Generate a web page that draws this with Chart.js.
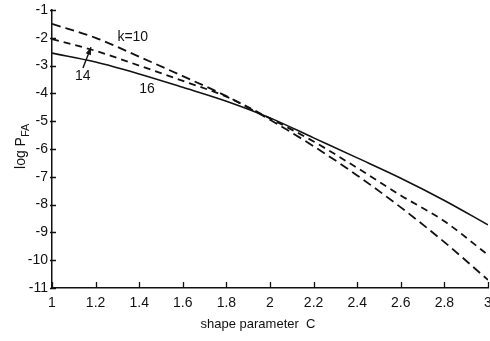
<!DOCTYPE html>
<html>
<head>
<meta charset="utf-8">
<script src="https://cdn.jsdelivr.net/npm/chart.js@4.4.1/dist/chart.umd.min.js"></script>
<style>
  html, body { margin: 0; padding: 0; background: #fff; }
  #wrap { width: 490px; height: 341px; position: relative; }
</style>
</head>
<body>
<div id="wrap"><canvas id="c"></canvas></div>
<script>
// shape parameter C
const shapeC = [1.0, 1.2, 1.4, 1.6, 1.8, 2.0, 2.2, 2.4, 2.6, 2.8, 3.0];
// log PFA for each k
const logK10 = [-1.5, -2.0, -2.68, -3.38, -4.1, -4.95, -5.9, -6.95, -8.1, -9.35, -10.71];
const logK14 = [-2.05, -2.47, -3.0, -3.55, -4.12, -4.9, -5.73, -6.68, -7.67, -8.6, -9.81];
const logK16 = [-2.55, -2.87, -3.3, -3.78, -4.28, -4.88, -5.6, -6.32, -7.05, -7.85, -8.73];
const xTicks = [1, 1.2, 1.4, 1.6, 1.8, 2, 2.2, 2.4, 2.6, 2.8, 3];
const yTicks = [-1, -2, -3, -4, -5, -6, -7, -8, -9, -10, -11];

const FONT = '"Liberation Sans", Arial, sans-serif';

function pts(ys) { return shapeC.map((x, i) => ({ x: x, y: ys[i] })); }

// inward tick marks, axis titles and curve labels
const extras = {
  id: 'extras',
  afterDraw(chart) {
    const ctx = chart.ctx;
    const xs = chart.scales.x, ys = chart.scales.y;
    const a = chart.chartArea;
    ctx.save();
    ctx.strokeStyle = '#111';
    ctx.lineWidth = 1.3;
    ctx.beginPath();
    xTicks.forEach(v => {
      const px = Math.round(xs.getPixelForValue(v)) + 0.5;
      ctx.moveTo(px, a.bottom); ctx.lineTo(px, a.bottom - 6);
    });
    yTicks.forEach(v => {
      const py = Math.round(ys.getPixelForValue(v)) + 0.5;
      ctx.moveTo(a.left - 2, py); ctx.lineTo(a.left + 4, py);
    });
    ctx.stroke();

    ctx.fillStyle = '#111';
    ctx.font = '13px ' + FONT;
    ctx.textAlign = 'center';
    ctx.textBaseline = 'alphabetic';
    ctx.fillText('shape parameter  C', 258, 328);

    // y title with subscript
    ctx.save();
    ctx.translate(25, 145);
    ctx.rotate(-Math.PI / 2);
    ctx.textAlign = 'left';
    ctx.font = '14px ' + FONT;
    const t1 = 'log P';
    const w1 = ctx.measureText(t1).width;
    const total = w1 + 16;
    ctx.fillText(t1, -total / 2, 0);
    ctx.font = '11px ' + FONT;
    ctx.fillText('FA', -total / 2 + w1, 4);
    ctx.restore();

    // curve labels
    ctx.font = '14px ' + FONT;
    ctx.textAlign = 'left';
    ctx.fillText('k=10', xs.getPixelForValue(1.3), ys.getPixelForValue(-2.1));
    ctx.fillText('14', xs.getPixelForValue(1.105), ys.getPixelForValue(-3.52));
    ctx.fillText('16', xs.getPixelForValue(1.4), ys.getPixelForValue(-4.0));

    // arrow to k=14
    const x0 = xs.getPixelForValue(1.142), y0 = ys.getPixelForValue(-3.09);
    const x1 = xs.getPixelForValue(1.179), y1 = ys.getPixelForValue(-2.34);
    ctx.lineWidth = 1.4;
    ctx.beginPath(); ctx.moveTo(x0, y0); ctx.lineTo(x1, y1); ctx.stroke();
    const ang = Math.atan2(y1 - y0, x1 - x0);
    ctx.beginPath();
    ctx.moveTo(x1, y1);
    ctx.lineTo(x1 - 8 * Math.cos(ang - 0.35), y1 - 8 * Math.sin(ang - 0.35));
    ctx.lineTo(x1 - 8 * Math.cos(ang + 0.35), y1 - 8 * Math.sin(ang + 0.35));
    ctx.closePath();
    ctx.fill();
    ctx.restore();
  }
};

new Chart(document.getElementById('c'), {
  type: 'line',
  data: {
    datasets: [
      { label: 'k=10', data: pts(logK10), borderColor: '#111', borderWidth: 1.8, borderDash: [9, 5], pointRadius: 0, tension: 0.4, cubicInterpolationMode: 'monotone', fill: false },
      { label: 'k=14', data: pts(logK14), borderColor: '#111', borderWidth: 1.8, borderDash: [7, 5], pointRadius: 0, tension: 0.4, cubicInterpolationMode: 'monotone', fill: false },
      { label: 'k=16', data: pts(logK16), borderColor: '#111', borderWidth: 1.6, pointRadius: 0, tension: 0.4, cubicInterpolationMode: 'monotone', fill: false }
    ]
  },
  options: {
    responsive: true,
    maintainAspectRatio: false,
    animation: false,
    layout: { padding: { top: 10, right: 2, left: 0, bottom: 0 } },
    plugins: { legend: { display: false }, tooltip: { enabled: false } },
    scales: {
      x: {
        type: 'linear', min: 1, max: 3,
        afterFit(s) { s.height = 53; s.paddingRight = 0; s.paddingLeft = 0; },
        afterBuildTicks(s) { s.ticks = xTicks.map(v => ({ value: v })); },
        grid: { display: false, drawTicks: false },
        border: { display: true, color: '#111', width: 1.5 },
        ticks: { color: '#111', padding: 7, font: { family: FONT, size: 14 }, callback: v => String(v) }
      },
      y: {
        type: 'linear', min: -11, max: -1,
        afterFit(s) { s.width = 52; s.paddingTop = 0; s.paddingBottom = 0; },
        afterBuildTicks(s) { s.ticks = yTicks.map(v => ({ value: v })); },
        grid: { display: false, drawTicks: false },
        border: { display: true, color: '#111', width: 1.5 },
        ticks: { color: '#111', padding: 4, font: { family: FONT, size: 14 }, callback: v => String(v) }
      }
    }
  },
  plugins: [extras]
});
</script>
</body>
</html>
